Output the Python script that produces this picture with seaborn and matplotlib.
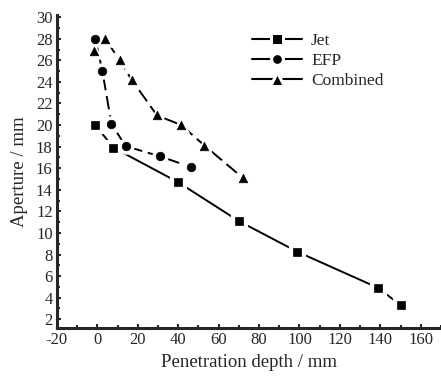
import numpy as np
import pandas as pd
import seaborn as sns
import matplotlib.pyplot as plt
from matplotlib.ticker import MultipleLocator
from matplotlib.lines import Line2D

# values
jet_x = [-1, 8, 40, 70, 99, 139, 150]
jet_y = [20.0, 17.9, 14.7, 11.1, 8.25, 4.9, 3.3]
efp_x = [-1, 2.5, 7, 14, 31, 46.5]
efp_y = [28.0, 25.0, 20.1, 18.05, 17.1, 16.1]
comb_x = [-1.5, 4, 11, 17, 29.5, 41.5, 53, 72]
comb_y = [26.9, 28.0, 26.0, 24.2, 20.9, 20.0, 18.1, 15.1]

series = ['Jet', 'EFP', 'Combined']
markers = {'Jet': 's', 'EFP': 'o', 'Combined': '^'}
leg_ms = {'Jet': 8, 'EFP': 8.5, 'Combined': 10}
dashes = {'Jet': None, 'EFP': (7, 3), 'Combined': (7, 3)}

df = pd.concat([
    pd.DataFrame({'x': jet_x, 'y': jet_y, 'kind': 'Jet'}),
    pd.DataFrame({'x': efp_x, 'y': efp_y, 'kind': 'EFP'}),
    pd.DataFrame({'x': comb_x, 'y': comb_y, 'kind': 'Combined'}),
], ignore_index=True)

sns.set_style('ticks')
plt.rcParams['font.family'] = ['Liberation Serif', 'DejaVu Serif']
plt.rcParams['axes.unicode_minus'] = False

fig = plt.figure(figsize=(4.41, 3.76), dpi=100)
ax = fig.add_axes([0.129, 0.128, 0.871, 0.832])

# white halo behind markers to get the little gaps in the lines
for k in series:
    sub = df[df.kind == k]
    sns.lineplot(data=sub, x='x', y='y', sort=False, color='black', lw=1.4,
                 dashes=False, ax=ax, legend=False)
    if dashes[k]:
        ax.lines[-1].set_dashes(dashes[k])
    sns.scatterplot(data=sub, x='x', y='y', marker=markers[k], s=120,
                    color='white', edgecolor='white', ax=ax, legend=False, zorder=3)
    sns.scatterplot(data=sub, x='x', y='y', marker=markers[k], s=38,
                    color='black', edgecolor='black', ax=ax, legend=False, zorder=4)

# legend: "— ■ —" style handles
handles = [Line2D([], [], color='black', lw=1.5, marker=markers[k], ms=leg_ms[k],
                  markeredgecolor='white', markeredgewidth=2.2,
                  markerfacecolor='black') for k in series]
ax.legend(handles, series, loc='upper left', bbox_to_anchor=(0.49, 0.965),
          frameon=False, handlelength=2.9, fontsize=12.5,
          labelspacing=0.22, handletextpad=0.5, borderaxespad=0)

ax.set_xlim(-20, 170)
ax.set_ylim(1.2, 30.2)
ax.xaxis.set_major_locator(MultipleLocator(20))
ax.xaxis.set_minor_locator(MultipleLocator(10))
ax.yaxis.set_minor_locator(MultipleLocator(1))
ax.set_yticks(np.arange(2, 31, 2))
ax.tick_params(which='both', direction='in', width=1.5, labelsize=12, pad=3)
ax.tick_params(which='major', length=3)
ax.tick_params(which='minor', length=2)
sns.despine(ax=ax)
ax.spines['left'].set_linewidth(2.2)
ax.spines['bottom'].set_linewidth(2.2)
ax.set_xlabel('Penetration depth / mm', fontsize=13.5, labelpad=4)
ax.set_ylabel('Aperture / mm', fontsize=13.5, labelpad=6)

fig.savefig('out.png', dpi=100)
